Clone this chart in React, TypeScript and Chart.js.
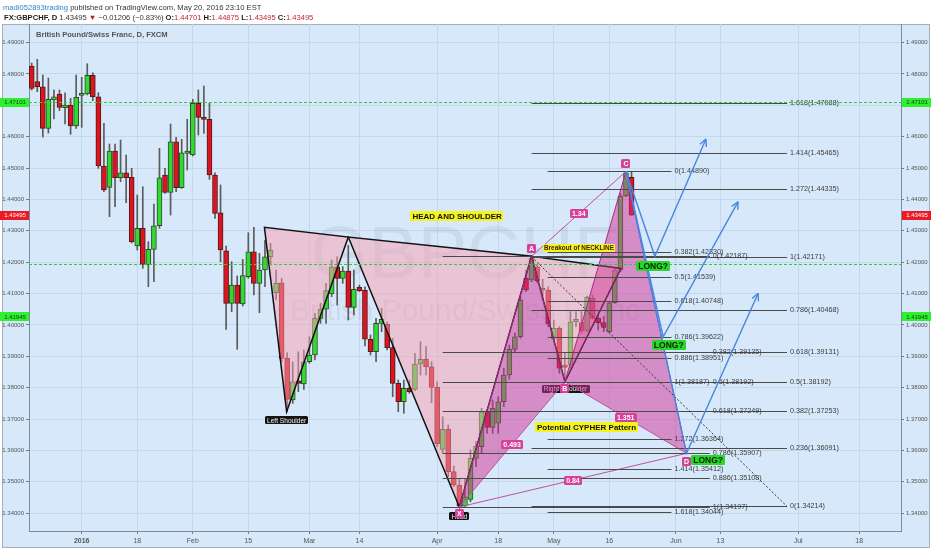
import { useEffect, useRef } from 'react';
import { Chart, registerables } from 'chart.js';

Chart.register(...registerables);

const FONT = '"Liberation Sans", Arial, sans-serif';

// Daily GBP/CHF bars; the first bar sits at index -9 (late Dec 2015), the last (index 99) is May 20, 2016
const FIRST_BAR = -9;
const opens = [
  1.48251, 1.47751, 1.47591, 1.46265, 1.47167, 1.47358, 1.46922, 1.47008, 1.46338,
  1.47317, 1.47358, 1.47954, 1.47272, 1.45063, 1.44385, 1.45541, 1.44691, 1.44850, 1.44704,
  1.42514, 1.43078, 1.41909, 1.42409, 1.43160, 1.44777, 1.44225, 1.45838, 1.44372, 1.45468,
  1.45414, 1.47062, 1.46615, 1.46552, 1.44777, 1.43575, 1.42364, 1.40687, 1.41270, 1.40666,
  1.41535, 1.42332, 1.41325, 1.41750, 1.42173, 1.41025, 1.41344, 1.38935, 1.37606, 1.38221,
  1.38116, 1.38826, 1.39041, 1.40209, 1.40499, 1.40984, 1.41854, 1.41485, 1.41717, 1.40560,
  1.41197, 1.41111, 1.39541, 1.39145, 1.40050, 1.40018, 1.39273, 1.38138, 1.37551, 1.37978,
  1.37947, 1.38753, 1.38903, 1.38667, 1.38011, 1.36035, 1.36672, 1.35321, 1.34897, 1.34230,
  1.34440, 1.35747, 1.36118, 1.37233, 1.36736, 1.36864, 1.37551, 1.38403, 1.39222, 1.39623,
  1.41485, 1.41430, 1.41854, 1.41154, 1.41111, 1.39572, 1.39891, 1.38721, 1.38721, 1.40101,
  1.40070, 1.39815, 1.40847, 1.40209, 1.40070, 1.39782, 1.40707, 1.41750, 1.44108, 1.44701,
];
const highs = [
  1.48346, 1.48464, 1.47964, 1.47868, 1.47486, 1.47486, 1.47400, 1.47221, 1.47964,
  1.47890, 1.48324, 1.48037, 1.47400, 1.46425, 1.45765, 1.45765, 1.45892, 1.45414, 1.44990,
  1.44139, 1.44403, 1.42650, 1.43852, 1.45627, 1.44990, 1.46402, 1.45978, 1.45914, 1.46552,
  1.47189, 1.47486, 1.47613, 1.47062, 1.44850, 1.44458, 1.42514, 1.42013, 1.41558, 1.42090,
  1.42938, 1.43110, 1.42281, 1.42705, 1.42600, 1.41750, 1.41485, 1.39114, 1.38826, 1.39145,
  1.39200, 1.39623, 1.40369, 1.40687, 1.41325, 1.42068, 1.42173, 1.41854, 1.42535, 1.41750,
  1.41270, 1.41217, 1.39678, 1.40209, 1.40530, 1.40101, 1.39572, 1.38243, 1.38243, 1.38243,
  1.39094, 1.39464, 1.39305, 1.38826, 1.38189, 1.37073, 1.36809, 1.35502, 1.35110, 1.35110,
  1.36012, 1.36277, 1.37341, 1.37309, 1.37606, 1.37710, 1.38617, 1.39359, 1.39751, 1.40898,
  1.41750, 1.42187, 1.41940, 1.41452, 1.41217, 1.40156, 1.39942, 1.39094, 1.40420, 1.40420,
  1.40420, 1.40921, 1.40952, 1.40315, 1.40262, 1.40739, 1.41803, 1.44194, 1.44890, 1.44875,
];
const lows = [
  1.47486, 1.47432, 1.45988, 1.46115, 1.46561, 1.46826, 1.46402, 1.46074, 1.46265,
  1.46297, 1.47332, 1.47145, 1.44990, 1.44244, 1.43448, 1.43766, 1.44563, 1.43893, 1.42610,
  1.42386, 1.41803, 1.41217, 1.41376, 1.43078, 1.44193, 1.43502, 1.44244, 1.44353, 1.44936,
  1.45382, 1.46051, 1.46106, 1.44639, 1.43397, 1.42013, 1.39859, 1.40420, 1.39222, 1.40601,
  1.41484, 1.40952, 1.40387, 1.41217, 1.41909, 1.40793, 1.38826, 1.37233, 1.37500, 1.37870,
  1.37947, 1.38776, 1.38881, 1.40050, 1.40050, 1.40898, 1.40633, 1.41325, 1.40156, 1.40315,
  1.41058, 1.39327, 1.39041, 1.38826, 1.39782, 1.39200, 1.37710, 1.37233, 1.37182, 1.37819,
  1.37902, 1.38403, 1.38403, 1.37520, 1.36118, 1.35907, 1.35162, 1.34842, 1.34197, 1.34214,
  1.34363, 1.35480, 1.35907, 1.36545, 1.36545, 1.36545, 1.37392, 1.38266, 1.39145, 1.39572,
  1.41058, 1.41376, 1.41344, 1.40793, 1.39942, 1.39518, 1.38457, 1.38187, 1.38617, 1.39942,
  1.39731, 1.39782, 1.40178, 1.39837, 1.39782, 1.39751, 1.40687, 1.41695, 1.44086, 1.43495,
];
const closes = [
  1.47540, 1.47591, 1.46265, 1.47189, 1.47272, 1.46935, 1.47008, 1.46338, 1.47253,
  1.47358, 1.47954, 1.47272, 1.45063, 1.44299, 1.45541, 1.44691, 1.44850, 1.44691, 1.42650,
  1.43078, 1.41930, 1.42409, 1.43160, 1.44691, 1.44225, 1.45838, 1.44372, 1.45487, 1.45541,
  1.47062, 1.46615, 1.46552, 1.44777, 1.43556, 1.42386, 1.40687, 1.41270, 1.40687, 1.41573,
  1.42332, 1.41325, 1.41750, 1.42173, 1.42386, 1.41325, 1.38935, 1.37628, 1.38189, 1.38138,
  1.38826, 1.39041, 1.40209, 1.40499, 1.41090, 1.41854, 1.41485, 1.41717, 1.40560, 1.41134,
  1.41090, 1.39541, 1.39145, 1.40050, 1.40178, 1.39273, 1.38138, 1.37551, 1.37978, 1.37871,
  1.38753, 1.38903, 1.38667, 1.38011, 1.36204, 1.36672, 1.35321, 1.34897, 1.34230, 1.34523,
  1.35747, 1.36140, 1.37233, 1.36736, 1.37341, 1.37551, 1.38403, 1.39222, 1.39623, 1.40793,
  1.41111, 1.42122, 1.41408, 1.41111, 1.40028, 1.39891, 1.38617, 1.38648, 1.40101, 1.40178,
  1.39815, 1.40879, 1.40209, 1.40070, 1.39922, 1.40707, 1.41750, 1.44108, 1.44850, 1.43495,
];

// Time axis (bar index -> date label)
const dateTickIdx = [0, 10, 20, 30, 41, 50, 64, 75, 85, 95, 107, 115, 129, 140];
const dateTickLabels = ['2016', '18', 'Feb', '15', 'Mar', '14', 'Apr', '18', 'May', '16', 'Jun', '13', 'Jul', '18'];
const priceTicks = [1.34, 1.35, 1.36, 1.37, 1.38, 1.39, 1.4, 1.41, 1.42, 1.43, 1.44, 1.45, 1.46, 1.47, 1.48, 1.49];

const X_MIN = -9.49;
const X_MAX = 147.52;
const Y_MIN = 1.33431;
const Y_MAX = 1.4959;

// Head & shoulders pivots as [bar, price]
const hsLeftShoulder: [number, number][] = [[32.9, 1.4311], [36.9, 1.37233], [48, 1.428]];
const hsHead: [number, number][] = [[48, 1.428], [68, 1.34197], [81, 1.42187]];
const hsRightShoulder: [number, number][] = [[81, 1.42187], [87, 1.38187], [97.1, 1.418]];
const hsLabelText = ['Left Shoulder', 'Head', 'Right Shoulder'];
const hsLabelIdx = [36.9, 68, 87.1];
const hsLabelPrice = [1.36959, 1.33899, 1.37956];

// Cypher XABCD
const cypherNames = ['X', 'A', 'B', 'C', 'D'];
const cypherIdx = [68, 81, 87, 98, 108.9];
const cypherPrice = [1.34197, 1.42187, 1.38187, 1.4489, 1.35907];
const cypherRatios = ['0.493', '1.34', '1.351', '0.84'];

// Fibonacci tools: levels, prices, and bar span
const fibALevels = ['0', '0.236', '0.382', '0.5', '0.618', '0.786', '1', '1.272', '1.414', '1.618'];
const fibAPrices = [1.34214, 1.36091, 1.37253, 1.38192, 1.39131, 1.40468, 1.42171, 1.44335, 1.45465, 1.47088];
const fibASpan = [81, 127];
const fibBLevels = ['0', '0.382', '0.5', '0.618', '0.786', '0.886', '1', '1.272', '1.414', '1.618'];
const fibBPrices = [1.4489, 1.4233, 1.41539, 1.40748, 1.39622, 1.38951, 1.38187, 1.36364, 1.35412, 1.34044];
const fibBSpan = [83.9, 106.2];
const fibDLevels = ['0', '0.382', '0.5', '0.618', '0.786', '0.886', '1'];
const fibDPrices = [1.42187, 1.39135, 1.38192, 1.37249, 1.35907, 1.35108, 1.34197];
const fibDSpan = [65, 113.1];

// Horizontal levels and last price
const levelPrices = [1.47101, 1.41945];
const lastPrice = 1.43495;

// Projected moves from C
const arrowIdx = [[98, 103.2, 112.4], [98, 104.7, 118.2], [98, 108.9, 121.8]];
const arrowPrice = [[1.4489, 1.42187, 1.45924], [1.4489, 1.39622, 1.43926], [1.4489, 1.35907, 1.41007]];

const longIdx = [102.9, 105.7, 112.8];
const longPrice = [1.41883, 1.39368, 1.35678];

const noteText = ['HEAD AND SHOULDER', 'Potential CYPHER Pattern'];
const noteIdx = [67.6, 90.9];
const notePrice = [1.4347, 1.36739];
const breakoutIdx = 83.06;
const breakoutPrice = 1.4245;

type Ctx = CanvasRenderingContext2D;

function tag(ctx: Ctx, text: string, x: number, y: number, bg: string, fg: string, font: string, padX = 2, h = 9, left = false) {
  ctx.font = font;
  const w = ctx.measureText(text).width + padX * 2;
  const x0 = left ? x : x - w / 2;
  ctx.fillStyle = bg;
  ctx.beginPath();
  ctx.roundRect(Math.round(x0), Math.round(y - h / 2), Math.round(w), h, 1.5);
  ctx.fill();
  ctx.fillStyle = fg;
  ctx.textAlign = 'center';
  ctx.textBaseline = 'middle';
  ctx.fillText(text, x0 + w / 2, y + 0.5);
}

const overlay = {
  id: 'overlay',
  beforeDraw(chart: Chart) {
    const ctx = chart.ctx;
    ctx.save();
    ctx.fillStyle = '#ffffff';
    ctx.fillRect(0, 0, chart.width, chart.height);
    ctx.fillStyle = '#d6e8f9';
    ctx.fillRect(2, 24, 928, 524);
    ctx.strokeStyle = '#a5b0bb';
    ctx.lineWidth = 1;
    ctx.strokeRect(2.5, 24.5, 927, 523);

    // header
    ctx.textBaseline = 'alphabetic';
    ctx.textAlign = 'left';
    let x = 3;
    const put = (t: string, color: string, bold = false, y = 10) => {
      ctx.font = `${bold ? 'bold ' : ''}7.6px ${FONT}`;
      ctx.fillStyle = color;
      ctx.fillText(t, x, y);
      x += ctx.measureText(t).width;
    };
    put('madi052893trading', '#2b86c9');
    put(' published on TradingView.com, May 20, 2016 23:10 EST', '#333');
    x = 4;
    const y2 = 19.5;
    put('FX:GBPCHF, D', '#1d1d1d', true, y2);
    put(' 1.43495 ', '#333', false, y2);
    put('\u25BC', '#d0121b', false, y2);
    put(' \u22120.01206 (\u22120.83%) ', '#333', false, y2);
    put('O:', '#1d1d1d', true, y2);
    put('1.44701', '#c0282e', false, y2);
    put(' H:', '#1d1d1d', true, y2);
    put('1.44875', '#c0282e', false, y2);
    put(' L:', '#1d1d1d', true, y2);
    put('1.43495', '#c0282e', false, y2);
    put(' C:', '#1d1d1d', true, y2);
    put('1.43495', '#c0282e', false, y2);
    ctx.restore();
  },
  beforeDatasetsDraw(chart: Chart) {
    const ctx = chart.ctx;
    const a = chart.chartArea;
    ctx.save();
    ctx.beginPath();
    ctx.rect(a.left, a.top, a.right - a.left, a.bottom - a.top);
    ctx.clip();
    ctx.fillStyle = 'rgba(70,80,100,0.085)';
    ctx.textAlign = 'center';
    ctx.textBaseline = 'middle';
    const cx = (a.left + a.right) / 2;
    ctx.font = `74px ${FONT}`;
    ctx.fillText('GBPCHF', cx, 258);
    ctx.font = `30px ${FONT}`;
    ctx.fillText('British Pound/Swiss Franc', cx, 312);
    ctx.fillStyle = '#555';
    ctx.textAlign = 'left';
    ctx.font = `bold 7.6px ${FONT}`;
    ctx.fillText('British Pound/Swiss Franc, D, FXCM', 36, 34.5);
    ctx.restore();
  },
  afterDatasetsDraw(chart: Chart) {
    const ctx = chart.ctx;
    const a = chart.chartArea;
    const xs = chart.scales.x;
    const ys = chart.scales.y;
    const px = (i: number) => xs.getPixelForValue(i);
    const py = (p: number) => ys.getPixelForValue(p);
    const path = (pts: [number, number][], close: boolean) => {
      ctx.beginPath();
      pts.forEach(([i, p], k) => (k ? ctx.lineTo(px(i), py(p)) : ctx.moveTo(px(i), py(p))));
      if (close) ctx.closePath();
    };
    ctx.save();
    ctx.beginPath();
    ctx.rect(a.left, a.top, a.right - a.left, a.bottom - a.top);
    ctx.clip();

    // head & shoulders
    ctx.fillStyle = 'rgba(250,160,178,0.5)';
    for (const t of [hsLeftShoulder, hsHead, hsRightShoulder]) {
      path(t, true);
      ctx.fill();
    }
    ctx.strokeStyle = '#111';
    ctx.lineWidth = 1.5;
    for (const t of [hsLeftShoulder, hsHead, hsRightShoulder]) {
      path(t, true);
      ctx.stroke();
    }
    hsLabelText.forEach((t, k) =>
      tag(ctx, t, px(hsLabelIdx[k]), py(hsLabelPrice[k]), '#141414', '#f2f2f2', `6.6px ${FONT}`, 2, 8),
    );

    // cypher pattern
    const cp = cypherIdx.map((i, k) => [i, cypherPrice[k]] as [number, number]);
    ctx.fillStyle = 'rgba(210,50,150,0.5)';
    path([cp[0], cp[1], cp[2]], true);
    ctx.fill();
    path([cp[2], cp[3], cp[4]], true);
    ctx.fill();
    ctx.strokeStyle = '#a62a84';
    ctx.lineWidth = 1;
    path(cp, false);
    ctx.stroke();
    const ratioPairs = [[0, 2], [1, 3], [2, 4], [0, 4]];
    ctx.strokeStyle = '#c2509e';
    ratioPairs.forEach(([s, e]) => {
      path([cp[s], cp[e]], false);
      ctx.stroke();
    });

    // fibonacci levels
    const fib = (levels: string[], prices: number[], span: number[]) => {
      const x0 = px(span[0]);
      const x1 = px(span[1]);
      ctx.strokeStyle = '#4a4a4a';
      ctx.lineWidth = 1;
      ctx.font = `7.2px ${FONT}`;
      ctx.textAlign = 'left';
      ctx.textBaseline = 'middle';
      levels.forEach((lv, k) => {
        const y = Math.round(py(prices[k])) + 0.5;
        ctx.beginPath();
        ctx.moveTo(x0, y);
        ctx.lineTo(x1, y);
        ctx.stroke();
        ctx.fillStyle = '#3c3c3c';
        ctx.fillText(`${lv}(${prices[k].toFixed(5)})`, x1 + 3, y);
      });
    };
    fib(fibALevels, fibAPrices, fibASpan);
    fib(fibDLevels, fibDPrices, fibDSpan);
    fib(fibBLevels, fibBPrices, fibBSpan);
    ctx.setLineDash([2, 2]);
    ctx.strokeStyle = '#333';
    ctx.beginPath();
    ctx.moveTo(px(fibASpan[0]), py(fibAPrices[6]));
    ctx.lineTo(px(fibASpan[1]), py(fibAPrices[0]));
    ctx.stroke();

    // horizontal levels
    ctx.strokeStyle = '#2ccf2c';
    ctx.setLineDash([3, 2]);
    levelPrices.forEach((p) => {
      const y = Math.round(py(p)) + 0.5;
      ctx.beginPath();
      ctx.moveTo(a.left, y);
      ctx.lineTo(a.right, y);
      ctx.stroke();
    });
    ctx.setLineDash([]);

    // projected moves
    ctx.strokeStyle = '#4a86e0';
    ctx.lineWidth = 1.4;
    arrowIdx.forEach((row, r) => {
      const pts = row.map((i, k) => [px(i), py(arrowPrice[r][k])]);
      ctx.beginPath();
      pts.forEach(([x, y], k) => (k ? ctx.lineTo(x, y) : ctx.moveTo(x, y)));
      ctx.stroke();
      const [xa, ya] = pts[pts.length - 2];
      const [xb, yb] = pts[pts.length - 1];
      const ang = Math.atan2(yb - ya, xb - xa);
      ctx.beginPath();
      for (const d of [-0.45, 0.45]) {
        ctx.moveTo(xb, yb);
        ctx.lineTo(xb - 8 * Math.cos(ang + d), yb - 8 * Math.sin(ang + d));
      }
      ctx.stroke();
    });

    // ratio labels and point labels
    ratioPairs.forEach(([s, e], k) => {
      const mx = (px(cp[s][0]) + px(cp[e][0])) / 2;
      const my = (py(cp[s][1]) + py(cp[e][1])) / 2;
      tag(ctx, cypherRatios[k], mx, my, '#d8419a', '#ffffff', `bold 7px ${FONT}`, 2, 9);
    });
    const pointOffset = [7, -8, 7, -8, 8];
    cypherNames.forEach((n, k) => {
      tag(ctx, n, px(cp[k][0]), py(cp[k][1]) + pointOffset[k], '#d8419a', '#ffffff', `bold 7px ${FONT}`, 2, 9);
    });

    // notes
    noteText.forEach((t, k) =>
      tag(ctx, t, px(noteIdx[k]), py(notePrice[k]), '#f4f41e', '#111', `bold 8px ${FONT}`, 2, 10),
    );
    tag(ctx, 'Breakout of NECKLINE', px(breakoutIdx), py(breakoutPrice), '#f4f41e', '#3a1a10', `bold 6.4px ${FONT}`, 1, 8, true);
    longIdx.forEach((i, k) =>
      tag(ctx, 'LONG?', px(i), py(longPrice[k]), '#27d827', '#0d200d', `bold 8.5px ${FONT}`, 2, 10),
    );
    ctx.restore();
  },
  afterDraw(chart: Chart) {
    const ctx = chart.ctx;
    const ys = chart.scales.y;
    const a = chart.chartArea;
    ctx.save();
    const badge = (text: string, y: number, bg: string, fg: string) => {
      ctx.font = `6px ${FONT}`;
      for (const x0 of [0, a.right + 1]) {
        ctx.fillStyle = bg;
        ctx.fillRect(x0, Math.round(y - 4.5), 29, 9);
        ctx.fillStyle = fg;
        ctx.textAlign = 'center';
        ctx.textBaseline = 'middle';
        ctx.fillText(text, x0 + 15, y + 0.5);
      }
    };
    badge(levelPrices[0].toFixed(5), ys.getPixelForValue(levelPrices[0]), '#2ef02e', '#124012');
    badge(levelPrices[1].toFixed(5), ys.getPixelForValue(1.4027), '#2ef02e', '#124012');
    badge(lastPrice.toFixed(5), ys.getPixelForValue(lastPrice), '#ec1a22', '#ffffff');
    ctx.restore();
  },
};

export default function App() {
  const ref = useRef<HTMLCanvasElement | null>(null);
  useEffect(() => {
    document.body.style.margin = '0';
    const bars = opens.map((o, k) => ({ x: FIRST_BAR + k, o, h: highs[k], l: lows[k], c: closes[k] }));
    const up = bars.map((b) => b.c >= b.o);
    const axisTicks = {
      color: '#555',
      font: { family: FONT, size: 6 },
      padding: 2,
    };
    const chart = new Chart(ref.current as HTMLCanvasElement, {
      type: 'bar',
      data: {
        datasets: [
          {
            data: bars.map((b) => ({ x: b.x, y: [b.l, b.h] })) as any,
            backgroundColor: '#5b5b5b',
            barThickness: 1,
            grouped: false,
            order: 2,
          } as any,
          {
            data: bars.map((b) => ({ x: b.x, y: [b.o, b.c] })) as any,
            backgroundColor: up.map((u) => (u ? '#33d933' : '#dc1420')),
            borderColor: up.map((u) => (u ? '#2e4a2a' : '#4e1a1a')),
            borderWidth: 1,
            borderSkipped: false,
            barThickness: 5,
            minBarLength: 2,
            grouped: false,
            order: 1,
          } as any,
        ],
      },
      options: {
        responsive: false,
        devicePixelRatio: 1,
        animation: false,
        layout: { padding: { top: 24, left: 0, right: 0, bottom: 0 } },
        plugins: { legend: { display: false }, tooltip: { enabled: false } },
        scales: {
          x: {
            type: 'linear',
            min: X_MIN,
            max: X_MAX,
            offset: false,
            afterBuildTicks: (s: any) => {
              s.ticks = dateTickIdx.map((v) => ({ value: v }));
            },
            afterFit: (s: any) => {
              s.height = 19;
            },
            ticks: {
              color: '#555',
              padding: 3,
              maxRotation: 0,
              autoSkip: false,
              font: (c: any) => ({ family: FONT, size: 7, weight: c.tick && c.tick.value === 0 ? 'bold' : 'normal' }),
              callback: (v: any) => dateTickLabels[dateTickIdx.indexOf(Number(v))] ?? '',
            },
            grid: { color: '#c4d8ec', tickLength: 3, tickColor: '#6d7c8b', offset: false },
            border: { display: true, color: '#7d8c9b' },
          },
          y: {
            type: 'linear',
            position: 'left',
            min: Y_MIN,
            max: Y_MAX,
            afterBuildTicks: (s: any) => {
              s.ticks = priceTicks.map((v) => ({ value: v }));
            },
            afterFit: (s: any) => {
              s.width = 29;
            },
            ticks: { ...axisTicks, callback: (v: any) => Number(v).toFixed(5) },
            grid: { color: '#c4d8ec', tickLength: 3, tickColor: '#6d7c8b' },
            border: { display: true, color: '#7d8c9b' },
          },
          y2: {
            type: 'linear',
            position: 'right',
            min: Y_MIN,
            max: Y_MAX,
            afterBuildTicks: (s: any) => {
              s.ticks = priceTicks.map((v) => ({ value: v }));
            },
            afterFit: (s: any) => {
              s.width = 31;
            },
            ticks: { ...axisTicks, callback: (v: any) => Number(v).toFixed(5) },
            grid: { drawOnChartArea: false, tickLength: 3, tickColor: '#6d7c8b' },
            border: { display: true, color: '#7d8c9b' },
          },
        },
      } as any,
      plugins: [overlay as any],
    });
    return () => chart.destroy();
  }, []);
  return <canvas ref={ref} width={932} height={550} style={{ display: 'block' }} />;
}
